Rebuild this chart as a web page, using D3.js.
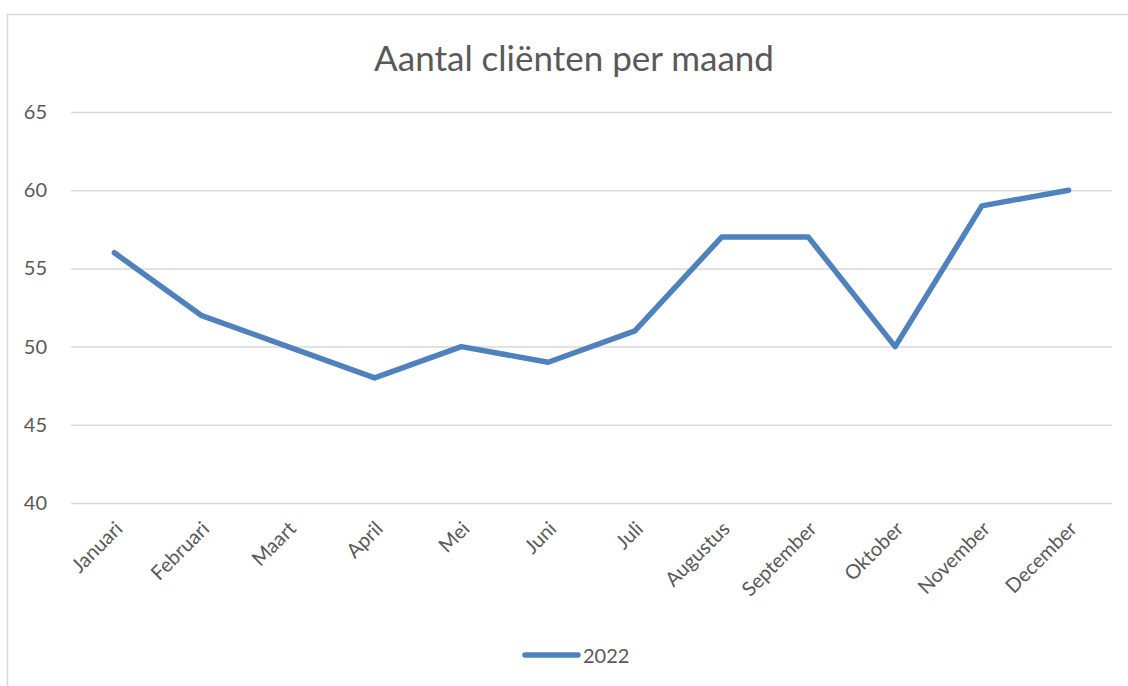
<!DOCTYPE html>
<html><head><meta charset="utf-8">
<script src="https://cdn.jsdelivr.net/npm/d3@7"></script>
<style>body{margin:0;background:#fff;} text{font-family:Lato, "Open Sans", sans-serif; fill:#595959;}</style>
</head><body>
<svg id="c" width="1128" height="686"></svg>
<script>
const months = ["Januari","Februari","Maart","April","Mei","Juni","Juli","Augustus","September","Oktober","November","December"];
const values2022 = [56,52,50,48,50,49,51,57,57,50,59,60];
const yTicks = [40,45,50,55,60,65];
const seriesName = "2022";
const title = "Aantal cliënten per maand";

const svg = d3.select("#c");
svg.append("rect").attr("x",7.5).attr("y",14.5).attr("width",1140).attr("height",700)
  .attr("fill","#fff").attr("stroke","#d9d9d9").attr("stroke-width",1.5);

const L=71, R=1112, T=112, B=503;
const x = d3.scalePoint().domain(months).range([L,R]).padding(0.5);
const y = d3.scaleLinear().domain([40,65]).range([B,T]);

svg.append("text").attr("x",574).attr("y",71).attr("text-anchor","middle")
  .style("font-size","35px").text(title);

const yAxis = svg.append("g").attr("transform",`translate(${L},0)`)
  .call(d3.axisLeft(y).tickValues(yTicks).tickSize(-(R-L)).tickPadding(24));
yAxis.select(".domain").remove();
yAxis.selectAll("line").attr("stroke","#d9d9d9").attr("stroke-width",1.5);
yAxis.selectAll("text").style("font-size","20px").attr("fill","#595959");

const xAxis = svg.append("g").attr("transform",`translate(0,${B})`)
  .call(d3.axisBottom(x).tickSize(0));
xAxis.select(".domain").remove();
xAxis.selectAll("text").style("font-size","20px").attr("fill","#595959")
  .attr("text-anchor","end").attr("dy",0).attr("y",0)
  .attr("transform","translate(9,27) rotate(-45)");

svg.append("path").datum(values2022)
  .attr("fill","none").attr("stroke","#4f81bd").attr("stroke-width",5.5)
  .attr("stroke-linejoin","round").attr("stroke-linecap","round")
  .attr("d", d3.line().x((d,i)=>x(months[i])).y(d=>y(d)));

const lg = svg.append("g");
lg.append("line").attr("x1",525).attr("x2",578).attr("y1",655).attr("y2",655)
  .attr("stroke","#4f81bd").attr("stroke-width",5.5).attr("stroke-linecap","round");
lg.append("text").attr("x",583).attr("y",663).style("font-size","20px").text(seriesName);
</script>
</body></html>
